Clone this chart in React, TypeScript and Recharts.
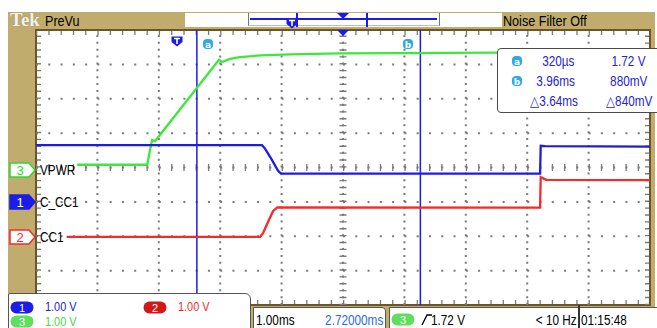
import React from 'react';
import { LineChart, Line, XAxis, YAxis, ReferenceLine, ReferenceArea } from 'recharts';

// ---- time base / screen (1.00 ms/div, 10 div; 8 vertical div) ----
const T_MIN = -2.3;
const T_MAX = 7.7;
const Y_DIVS = 8;

// ---- channel offsets (divisions from bottom) ----
const CH1_OFFSET = 2.93;
const CH2_OFFSET = 1.98;
const CH3_OFFSET = 4.0;

// ---- CH3 VPWR (green), volts ----
const ch3Time = [-1.63, -0.49, -0.41, -0.36, 0.68, 0.73, 0.86, 1.02, 1.35, 1.84, 2.65, 3.63, 5.2, 7.7];
const ch3Volt = [0.08, 0.08, 0.8, 0.77, 3.13, 3.07, 3.16, 3.21, 3.26, 3.29, 3.32, 3.33, 3.34, 3.34];

// ---- CH1 C_CC1 (blue), volts ----
const ch1Time = [-2.3, 1.38, 1.43, 1.54, 1.64, 1.69, 5.91, 5.92, 5.99, 7.7];
const ch1Volt = [1.72, 1.72, 1.62, 1.3, 0.98, 0.89, 0.89, 1.7, 1.69, 1.68];

// ---- CH2 CC1 (red), volts ----
const ch2Time = [-1.8, 1.35, 1.4, 1.48, 1.56, 1.63, 5.91, 5.92, 6.01, 7.7];
const ch2Volt = [0.0, 0.0, 0.12, 0.44, 0.75, 0.86, 0.85, 1.74, 1.66, 1.65];

// ---- cursors ----
const cursorTimes = [0.32, 3.96]; // ms
const cursorVolts = [1.72, 0.88]; // V

// ---- status texts ----
const chScales = ['1.00 V', '1.00 V', '1.00 V'];
const timeScale = '1.00ms';
const horizPos = '2.72000ms';
const trigLevel = '1.72 V';
const trigFreq = '< 10 Hz';
const clock = '01:15:48';
const chNames = ['C_CC1', 'CC1', 'VPWR'];

const W = 657;
const H = 328;
const PL = 36;
const PT = 30;
const PW = 614;
const PH = 275;
const DX = PW / (T_MAX - T_MIN);
const DY = PH / Y_DIVS;
const px = (t: number) => PL + (t - T_MIN) * DX;

const KHAKI = '#C0AC6C';
const BORDER = '#6F5428';
const GRID = '#7a7a7a';
const BLUE = '#1C1CE8';
const RED = '#F52A2A';
const GREEN = '#3CE83C';
const TXTBLUE = '#2222D8';
const CYAN = '#2BA9EA';
const FONT = "'Liberation Sans','Arial',sans-serif";

const mk = (ts: number[], vs: number[], off: number) => ts.map((t, i) => ({ t, v: vs[i] + off }));
const ch1Data = mk(ch1Time, ch1Volt, CH1_OFFSET);
const ch2Data = mk(ch2Time, ch2Volt, CH2_OFFSET);
const ch3Data = mk(ch3Time, ch3Volt, CH3_OFFSET);

const gridX = [1, 2, 3, 4, 6, 7, 8, 9].map((k) => Math.round((T_MIN + k) * 100) / 100);
const gridY = [1, 2, 3, 5, 6, 7];

const fmtTime = (ms: number) => (ms < 1 ? `${Math.round(ms * 1000)}µs` : `${ms.toFixed(2)}ms`);
const fmtVolt = (v: number) => (v >= 1 ? `${v.toFixed(2)} V` : `${Math.round(v * 1000)}mV`);

const Txt = ({ x, y, children, color = '#000', size = 14, right, sx = 0.84, style }: any) => (
  <div
    style={{
      position: 'absolute',
      top: y,
      ...(right !== undefined ? { right: W - right } : { left: x }),
      color,
      fontSize: size,
      lineHeight: `${size}px`,
      whiteSpace: 'nowrap',
      fontFamily: FONT,
      transform: `scaleX(${sx})`,
      transformOrigin: right !== undefined ? 'right center' : 'left center',
      ...style,
    }}
  >
    {children}
  </div>
);

const ChMarker = ({ y, color, filled, label }: any) => (
  <svg style={{ position: 'absolute', left: 9, top: y - 8 }} width={28} height={16}>
    <path d="M1,1 H20 L26,8 L20,15 H1 Z" fill={filled ? color : '#fff'} stroke={color} strokeWidth={1.5} />
    <text x={11} y={13} textAnchor="middle" fontSize={13} fontFamily={FONT} fill={filled ? '#fff' : color}>
      {label}
    </text>
  </svg>
);

const Pill = ({ x, y, color, label }: any) => (
  <svg style={{ position: 'absolute', left: x, top: y }} width={24} height={13}>
    <rect x={0.5} y={0.5} width={23} height={12} rx={6} fill={color} />
    <text x={12} y={10.5} textAnchor="middle" fontSize={11} fontFamily={FONT} fill="#fff">
      {label}
    </text>
  </svg>
);

const CurBadge = ({ cx, cy, label }: any) => (
  <svg style={{ position: 'absolute', left: cx - 5, top: cy - 5 }} width={10} height={10}>
    <rect x={0} y={0} width={10} height={10} rx={4} fill={CYAN} />
    <text x={5} y={8.5} textAnchor="middle" fontSize={9} fontWeight="bold" fontFamily="DejaVu Sans" fill="#fff">
      {label}
    </text>
  </svg>
);

const TMarker = ({ cx, top }: any) => (
  <svg style={{ position: 'absolute', left: cx - 6, top }} width={12} height={11}>
    <path d="M0.5,0.5 H11.5 V6 L6,10.5 L0.5,6 Z" fill={BLUE} />
    <path d="M3,2.5 H9 M6,2.5 V8" stroke="#fff" strokeWidth={1.6} />
  </svg>
);

const DownTri = ({ cx, top }: any) => (
  <svg style={{ position: 'absolute', left: cx - 6, top }} width={12} height={7}>
    <path d="M0,0 H12 L6,6 Z" fill={BLUE} />
  </svg>
);

export default function App() {
  const [ta, tb] = cursorTimes;
  const [va, vb] = cursorVolts;
  const xa = px(ta);
  const xb = px(tb);
  const xTrig = px(0);
  const tCenter = (T_MIN + T_MAX) / 2;
  const xCenter = px(tCenter);
  const ch3Y = PT + PH - CH3_OFFSET * DY + 2.5;
  const ch1Y = PT + PH - CH1_OFFSET * DY - 2;
  const ch2Y = PT + PH - CH2_OFFSET * DY;

  const vLines = [
    ...gridX.map((x) => ({ x, w: 2, d: '2 4.875' })),
    { x: tCenter, w: 2, d: '2 4.875' },
    { x: tCenter, w: 7, d: '1.3 5.575' },
    { x: T_MIN + 3 / DX, w: 4, d: '1.3 5.575' },
    { x: T_MAX - 3 / DX, w: 4, d: '1.3 5.575' },
  ];
  const hLines = [
    ...gridY.map((y) => ({ y, w: 2, d: '2 10.28' })),
    { y: Y_DIVS / 2, w: 2, d: '2 10.28' },
    { y: Y_DIVS / 2, w: 7, d: '1.3 10.98' },
    { y: Y_DIVS - 3 / DY, w: 4, d: '1.3 10.98' },
    { y: 3 / DY, w: 4, d: '1.3 10.98' },
  ];

  return (
    <div style={{ position: 'absolute', left: 0, top: 0, width: W, height: H, background: '#fff', overflow: 'hidden', fontFamily: FONT }}>
      <div style={{ position: 'absolute', left: 8, top: 12, width: 647, height: 316, background: KHAKI }} />
      <div style={{ position: 'absolute', left: PL, top: PT, width: PW, height: PH, background: '#fff' }} />

      {/* top bar */}
      <div
        style={{
          position: 'absolute',
          left: 10,
          top: 10,
          fontFamily: "'Liberation Serif','DejaVu Serif',serif",
          fontWeight: 'bold',
          fontSize: 19,
          lineHeight: '20px',
          color: '#f2f2f2',
          textShadow: '0 0 1px #8a7a4a',
        }}
      >
        Tek
      </div>
      <Txt x={45} y={13} size={15}>PreVu</Txt>
      <div style={{ position: 'absolute', left: 185, top: 13, width: 317, height: 14, background: '#fff' }} />
      <div style={{ position: 'absolute', left: 248, top: 13, width: 190, height: 12, borderLeft: '1.5px solid #777', borderRight: '1.5px solid #777', borderBottom: '1px solid #bbb' }} />
      <div style={{ position: 'absolute', left: 250, top: 18, width: 187, height: 2, background: BLUE }} />
      <div style={{ position: 'absolute', left: 296, top: 13, width: 2, height: 14, background: BLUE }} />
      <div style={{ position: 'absolute', left: 366, top: 13, width: 2, height: 14, background: BLUE }} />
      <DownTri cx={343} top={13} />
      <TMarker cx={292} top={18} />
      <Txt x={503} y={13} size={15}>Noise Filter Off</Txt>

      <div style={{ position: 'absolute', left: 0, top: 0 }}>
        <LineChart width={W} height={H} margin={{ top: PT, right: W - PL - PW, bottom: H - PT - PH, left: PL }}>
          <XAxis type="number" dataKey="t" domain={[T_MIN, T_MAX]} allowDataOverflow hide />
          <YAxis type="number" domain={[0, Y_DIVS]} allowDataOverflow hide />
          {vLines.map((l, i) => (
            <ReferenceLine key={'v' + i} x={l.x} stroke={GRID} strokeWidth={l.w} strokeDasharray={l.d} ifOverflow="visible" />
          ))}
          {hLines.map((l, i) => (
            <ReferenceLine key={'h' + i} y={l.y} stroke={GRID} strokeWidth={l.w} strokeDasharray={l.d} ifOverflow="visible" />
          ))}

          <ReferenceLine x={ta} stroke={BLUE} strokeWidth={1.5} />
          <ReferenceLine x={tb} stroke={BLUE} strokeWidth={1.5} />

          <Line data={ch3Data} dataKey="v" type="linear" stroke={GREEN} strokeWidth={2.3} dot={false} isAnimationActive={false} />
          <Line data={ch1Data} dataKey="v" type="linear" stroke={BLUE} strokeWidth={2.3} dot={false} isAnimationActive={false} />
          <Line data={ch2Data} dataKey="v" type="linear" stroke={RED} strokeWidth={2.3} dot={false} isAnimationActive={false} />

          <ReferenceArea x1={T_MIN} x2={T_MAX} y1={0} y2={Y_DIVS} fill="none" fillOpacity={0} stroke={BORDER} strokeWidth={2} />
        </LineChart>
      </div>

      {/* markers on the graticule */}
      <DownTri cx={xCenter} top={30} />
      <TMarker cx={xTrig} top={36} />
      <CurBadge cx={xa + 11} cy={44} label="a" />
      <CurBadge cx={xb - 12} cy={44} label="b" />

      {/* channel markers */}
      <ChMarker y={ch3Y} color="#2ed82e" label="3" />
      <Txt x={40} y={ch3Y - 7}>{chNames[2]}</Txt>
      <ChMarker y={ch1Y} color={BLUE} filled label="1" />
      <Txt x={40} y={ch1Y - 7}>{chNames[0]}</Txt>
      <ChMarker y={ch2Y} color={RED} label="2" />
      <Txt x={40} y={ch2Y - 7}>{chNames[1]}</Txt>

      {/* cursor readout */}
      <div style={{ position: 'absolute', left: 497, top: 48, width: 162, height: 63, background: '#fff', border: '1.5px solid #4a4a4a', borderRadius: 4 }} />
      <CurBadge cx={517} cy={61} label="a" />
      <Txt right={574} y={54} color={TXTBLUE}>{fmtTime(ta)}</Txt>
      <Txt right={645} y={54} color={TXTBLUE}>{fmtVolt(va)}</Txt>
      <CurBadge cx={517} cy={81} label="b" />
      <Txt right={575} y={74} color={TXTBLUE}>{fmtTime(tb)}</Txt>
      <Txt right={647} y={74} color={TXTBLUE}>{fmtVolt(vb)}</Txt>
      <Txt right={578} y={94} color={TXTBLUE}>{'\u25B3' + fmtTime(tb - ta)}</Txt>
      <Txt right={652} y={94} color={TXTBLUE}>{'\u25B3' + fmtVolt(va - vb)}</Txt>

      {/* bottom left status */}
      <div style={{ position: 'absolute', left: 8, top: 293, width: 241, height: 40, background: '#fff', border: '1.5px solid #555', borderTopRightRadius: 6, borderTopLeftRadius: 2 }} />
      <Pill x={10} y={301} color={BLUE} label="1" />
      <Txt x={45} y={300} size={13} color={TXTBLUE}>{chScales[0]}</Txt>
      <Pill x={143} y={301} color="#D01818" label="2" />
      <Txt x={178} y={300} size={13} color={RED}>{chScales[1]}</Txt>
      <Pill x={10} y={315} color="#5EE05E" label="3" />
      <Txt x={45} y={315} size={13} color="#48D848">{chScales[2]}</Txt>

      {/* bottom middle / right */}
      <div style={{ position: 'absolute', left: 253, top: 307, width: 131, height: 26, background: '#fff', border: '1px solid #555', borderTopRightRadius: 4 }} />
      <Txt x={256} y={313}>{timeScale}</Txt>
      <Txt right={383} y={313} color="#2a6ae8">{horizPos}</Txt>
      <div style={{ position: 'absolute', left: 389, top: 307, width: 270, height: 26, background: '#fff', borderLeft: '1px solid #555', borderTop: '1px solid #555' }} />
      <Pill x={391} y={313} color="#5EE05E" label="3" />
      <svg style={{ position: 'absolute', left: 421, top: 313 }} width={12} height={13}>
        <path d="M1,12 L6,2 H11" stroke="#000" strokeWidth={1.3} fill="none" />
      </svg>
      <Txt x={431} y={313}>{trigLevel}</Txt>
      <Txt right={577} y={313}>{trigFreq}</Txt>
      <div style={{ position: 'absolute', left: 578, top: 305, width: 2, height: 25, background: '#333' }} />
      <Txt x={581} y={313}>{clock}</Txt>
    </div>
  );
}
